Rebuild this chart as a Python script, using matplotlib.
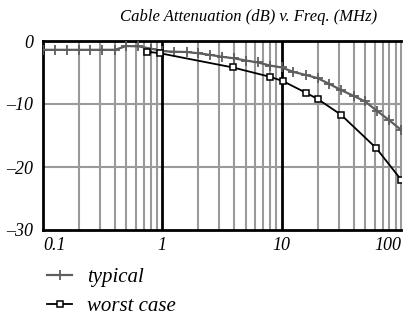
import numpy as np
import matplotlib
matplotlib.use("Agg")
import matplotlib.pyplot as plt
from matplotlib.ticker import FixedLocator, NullFormatter

plt.rcParams['font.family'] = ['Liberation Serif', 'DejaVu Serif']
plt.rcParams['font.style'] = 'italic'

# Dane
f_typowa = [0.1, 0.125, 0.16, 0.2, 0.25, 0.315, 0.4, 0.5, 0.63, 0.8,
            1, 1.25, 1.6, 2, 2.5, 3.15, 4, 5, 6.3, 8,
            10, 12.5, 16, 20, 25, 31.5, 40, 50, 63, 80, 100]
db_typowa = [-1.4, -1.4, -1.4, -1.4, -1.4, -1.4, -1.4, -0.8, -0.85, -1.2,
             -1.6, -1.7, -1.75, -1.95, -2.2, -2.5, -2.75, -3.1, -3.4, -3.9,
             -4.2, -4.9, -5.4, -5.9, -6.8, -7.8, -8.7, -9.6, -11.1, -12.6, -14.1]

f_najgorsza = [0.75, 0.96, 3.9, 8.05, 10.2, 15.9, 20, 31.4, 62, 100]
db_najgorsza = [-1.7, -1.95, -4.2, -5.7, -6.35, -8.2, -9.2, -11.7, -17.0, -22.0]

etykiety_x = ['0.1', '1', '10', '100']
wartosci_x = [0.1, 1, 10, 100]
wartosci_y = [0, -10, -20, -30]
etykiety_y = ['0', '\u201310', '\u201320', '\u201330']

fig = plt.figure(figsize=(4.03, 3.16), dpi=100)
ax = fig.add_axes([43 / 403, 1 - 230 / 316, 358 / 403, 189 / 316])

ax.set_xscale('log')
ax.set_xlim(0.1, 100)
ax.set_ylim(-30, 0)

# Siatka: linie pomocnicze szare, dekady czarne
minory = [m * 10.0 ** d for d in (-1, 0, 1) for m in range(2, 10)]
for x in minory:
    ax.axvline(x, color='#9a9a9a', lw=1.5, zorder=0)
for x in (1, 10):
    ax.axvline(x, color='black', lw=2, zorder=0.5)
for y in (-10, -20):
    ax.axhline(y, color='#9a9a9a', lw=1.5, zorder=0)

ax.plot(f_typowa, db_typowa, color='#5e5e5e', lw=1.6, marker='+',
        markersize=7, mew=1.3, label='typical', zorder=3)
ax.plot(f_najgorsza, db_najgorsza, color='black', lw=1.3, marker='s',
        markersize=5, mfc='white', mec='black', mew=1.1,
        label='worst case', zorder=4)

ax.xaxis.set_major_locator(FixedLocator(wartosci_x))
ax.xaxis.set_minor_locator(FixedLocator([]))
ax.xaxis.set_minor_formatter(NullFormatter())
ax.set_xticklabels(etykiety_x, fontsize=13)
ax.set_yticks(wartosci_y)
ax.set_yticklabels(etykiety_y, fontsize=13)
ax.tick_params(axis='x', length=0, pad=5)
ax.tick_params(axis='y', length=0, pad=7)
labs = ax.get_xticklabels()
labs[0].set_horizontalalignment('left')
labs[-1].set_horizontalalignment('right')

for s in ('left', 'top', 'bottom'):
    ax.spines[s].set_linewidth(2)
ax.spines['right'].set_color('#9a9a9a')
ax.spines['right'].set_linewidth(1.5)

fig.text(249 / 403, 1 - 17 / 316, 'Cable Attenuation (dB) v. Freq. (MHz)',
         ha='center', va='center', fontsize=12)

fig.legend(loc='upper left', bbox_to_anchor=(37 / 403, 1 - 257 / 316),
           frameon=False, fontsize=15, handlelength=1.2,
           handletextpad=0.7, labelspacing=0.45, borderpad=0)

plt.savefig('out.png', dpi=100)
